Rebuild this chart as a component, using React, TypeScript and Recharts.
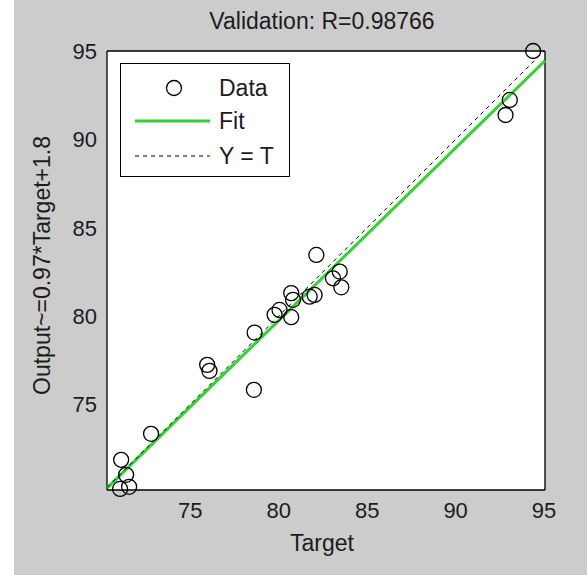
import { ScatterChart, Scatter, XAxis, YAxis } from "recharts";

// readings taken off the validation regression plot
const targets = [71.1, 71.38, 71.04, 71.55, 72.79, 75.96, 76.09, 78.6, 78.64, 79.77, 80.05, 80.71, 80.81, 80.71, 81.75, 82.03, 82.13, 83.07, 83.45, 83.54, 92.82, 93.06, 94.38];
const outputs = [71.87, 71.02, 70.22, 70.34, 73.34, 77.24, 76.9, 75.83, 79.07, 80.07, 80.35, 81.3, 80.92, 79.94, 81.1, 81.2, 83.46, 82.14, 82.52, 81.63, 91.38, 92.23, 95.0];

const fitTarget = [70.3, 95.05];
const fitOutput = [70.27, 94.45];
const identityLine = [70.3, 95.0];

const xTicks = [75, 80, 85, 90, 95];
const yTicks = [75, 80, 85, 90, 95];
const xDomain = [70.3, 95.05];
const yDomain = [70.16, 95.0];

const points = targets.map((t, i) => ({ x: t, y: outputs[i] }));
const fitData = fitTarget.map((t, i) => ({ x: t, y: fitOutput[i] }));
const identityData = identityLine.map((v) => ({ x: v, y: v }));

const FONT = '"Liberation Sans", Arial, sans-serif';
const TEXT = "#1c1c1c";
const GREEN = "#2fd42f";
const TICK_LINE = { stroke: "#000", strokeWidth: 1.3 };

const Ring = ({ cx, cy }: any) => (
    <circle cx={cx} cy={cy} r={7.5} fill="none" stroke="#000" strokeWidth={1.3} />
);

const Nothing = () => <g />;

export default function App() {
    return (
        <div style={{ position: "absolute", left: 0, top: 0, width: 587, height: 575, background: "#fff" }}>
            <div style={{ position: "absolute", left: 14, top: 0, width: 573, height: 575, background: "#cccccc", fontFamily: FONT }}>
                <ScatterChart width={573} height={575} margin={{ top: 51, right: 42, bottom: 45, left: 43 }}>
                    <rect x={93} y={51} width={437.5} height={439} fill="#fff" />
                    <XAxis
                        xAxisId="x" dataKey="x" type="number" domain={xDomain} ticks={xTicks}
                        height={40} tickLine={false} tickSize={0} tickMargin={12}
                        axisLine={TICK_LINE}
                        tick={{ fontSize: 22, fill: TEXT, fontFamily: FONT }}
                        label={{
                            content: ({ viewBox }: any) => (
                                <text x={viewBox.x + viewBox.width / 2 - 4} y={551} textAnchor="middle" fontSize={23} fill={TEXT} fontFamily={FONT}>Target</text>
                            ),
                        }}
                    />
                    <XAxis xAxisId="xb" dataKey="x" type="number" domain={xDomain} ticks={xTicks} orientation="bottom" mirror height={1}
                        tick={false} axisLine={false} tickSize={5} tickLine={TICK_LINE} />
                    <XAxis
                        xAxisId="xt" dataKey="x" type="number" domain={xDomain} ticks={xTicks} orientation="top" mirror height={1}
                        tick={false} tickSize={5} tickLine={TICK_LINE} axisLine={TICK_LINE}
                        label={{
                            content: ({ viewBox }: any) => (
                                <text x={viewBox.x + viewBox.width / 2 - 4} y={29} textAnchor="middle" fontSize={23} fill={TEXT} fontFamily={FONT}>Validation: R=0.98766</text>
                            ),
                        }}
                    />
                    <YAxis
                        yAxisId="y" dataKey="y" type="number" domain={yDomain} ticks={yTicks}
                        width={50} tickLine={false} tickSize={0} tickMargin={10}
                        axisLine={TICK_LINE}
                        tick={{ fontSize: 22, fill: TEXT, fontFamily: FONT }}
                        label={{
                            content: ({ viewBox }: any) => {
                                const cy = viewBox.y + viewBox.height / 2 - 5;
                                return (
                                    <text x={28} y={cy} textAnchor="middle" fontSize={23} fill={TEXT} fontFamily={FONT} transform={`rotate(-90, 28, ${cy})`} dominantBaseline="central">
                                        Output~=0.97*Target+1.8
                                    </text>
                                );
                            },
                        }}
                    />
                    <YAxis yAxisId="yl" dataKey="y" type="number" domain={yDomain} ticks={yTicks} orientation="left" mirror width={1}
                        tick={false} axisLine={false} tickSize={5} tickLine={TICK_LINE} />
                    <YAxis yAxisId="yr" dataKey="y" type="number" domain={yDomain} ticks={yTicks} orientation="right" mirror width={1}
                        tick={false} tickSize={5} tickLine={TICK_LINE} axisLine={TICK_LINE} />

                    {/* invisible series so the frame axes get drawn */}
                    <Scatter xAxisId="xb" yAxisId="yl" data={identityData} shape={Nothing} isAnimationActive={false} />
                    <Scatter xAxisId="xt" yAxisId="yr" data={identityData} shape={Nothing} isAnimationActive={false} />

                    <Scatter xAxisId="x" yAxisId="y" data={fitData} line={{ stroke: GREEN, strokeWidth: 3 }} shape={Nothing} isAnimationActive={false} />
                    <Scatter xAxisId="x" yAxisId="y" data={identityData} line={{ stroke: "#000", strokeWidth: 1, strokeDasharray: "4 4" }} shape={Nothing} isAnimationActive={false} />
                    <Scatter xAxisId="x" yAxisId="y" data={points} shape={Ring} isAnimationActive={false} />
                </ScatterChart>

                <div style={{ position: "absolute", left: 106, top: 63, width: 168, height: 112, border: "1.5px solid #000", background: "#fff" }}>
                    <svg width={100} height={112} style={{ position: "absolute", left: 0, top: 0 }}>
                        <circle cx={53} cy={24} r={7.5} fill="none" stroke="#000" strokeWidth={1.3} />
                        <line x1={14} y1={57} x2={89} y2={57} stroke={GREEN} strokeWidth={3} />
                        <line x1={14} y1={92} x2={89} y2={92} stroke="#000" strokeWidth={1} strokeDasharray="4 4" />
                    </svg>
                    {["Data", "Fit", "Y = T"].map((t, i) => (
                        <div key={t} style={{ position: "absolute", left: 98, top: [24, 57, 92][i] - 14, fontSize: 23, lineHeight: "28px", color: TEXT, whiteSpace: "nowrap" }}>{t}</div>
                    ))}
                </div>
            </div>
        </div>
    );
}
